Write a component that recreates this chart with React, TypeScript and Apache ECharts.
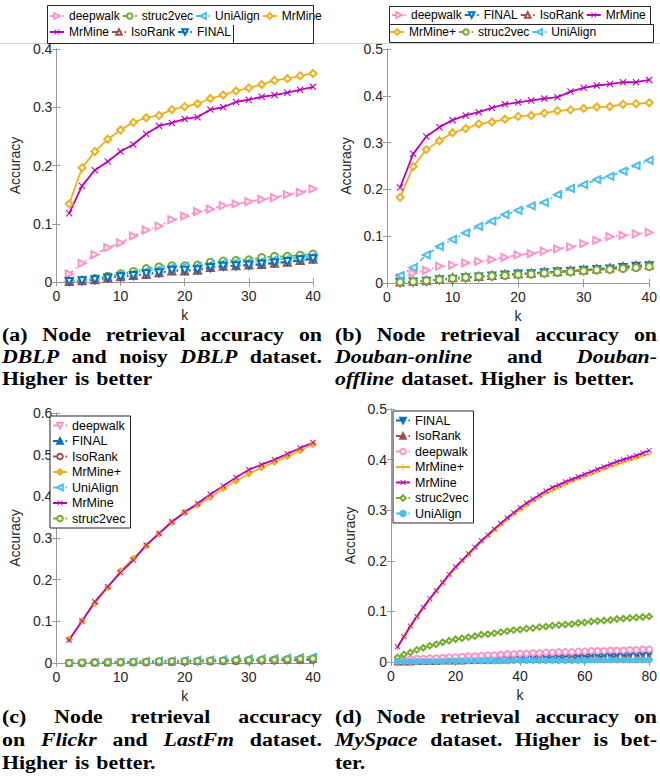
import React, { useEffect, useRef } from "react";
import * as echarts from "echarts";

// ---------------- data ----------------
const K40 = [2, 4, 6, 8, 10, 12, 14, 16, 18, 20, 22, 24, 26, 28, 30, 32, 34, 36, 38, 40];
const K80 = [2, 4, 6, 8, 10, 12, 14, 16, 18, 20, 22, 24, 26, 28, 30, 32, 34, 36, 38, 40,
  42, 44, 46, 48, 50, 52, 54, 56, 58, 60, 62, 64, 66, 68, 70, 72, 74, 76, 78, 80];

// (a) DBLP
const aDeepwalk = [0.014, 0.032, 0.047, 0.059, 0.067, 0.079, 0.089, 0.096, 0.107, 0.113, 0.121, 0.125, 0.131, 0.134, 0.138, 0.142, 0.145, 0.150, 0.154, 0.160];
const aStruc2vec = [0.001, 0.003, 0.006, 0.010, 0.014, 0.018, 0.023, 0.026, 0.028, 0.028, 0.029, 0.034, 0.036, 0.037, 0.038, 0.042, 0.044, 0.044, 0.046, 0.048];
const aUniAlign = [0.001, 0.003, 0.005, 0.008, 0.012, 0.015, 0.019, 0.022, 0.025, 0.027, 0.027, 0.030, 0.033, 0.034, 0.035, 0.036, 0.039, 0.040, 0.042, 0.044];
const aMrMinePlus = [0.134, 0.196, 0.224, 0.245, 0.261, 0.274, 0.282, 0.286, 0.296, 0.301, 0.306, 0.315, 0.321, 0.328, 0.333, 0.339, 0.346, 0.349, 0.354, 0.358];
const aMrMine = [0.118, 0.165, 0.192, 0.207, 0.224, 0.236, 0.254, 0.268, 0.273, 0.280, 0.283, 0.296, 0.300, 0.309, 0.313, 0.318, 0.321, 0.325, 0.330, 0.335];
const aIsoRank = [0.001, 0.002, 0.004, 0.007, 0.009, 0.011, 0.013, 0.016, 0.019, 0.019, 0.020, 0.025, 0.027, 0.028, 0.029, 0.030, 0.032, 0.034, 0.037, 0.039];
const aFinal = [0.001, 0.002, 0.004, 0.007, 0.009, 0.011, 0.014, 0.016, 0.020, 0.020, 0.021, 0.025, 0.027, 0.028, 0.029, 0.031, 0.033, 0.035, 0.038, 0.040];

// (b) Douban
const bDeepwalk = [0.011, 0.021, 0.027, 0.036, 0.038, 0.043, 0.046, 0.050, 0.055, 0.060, 0.063, 0.068, 0.073, 0.077, 0.084, 0.091, 0.099, 0.102, 0.105, 0.108];
const bFinal = [0.001, 0.002, 0.004, 0.007, 0.008, 0.011, 0.013, 0.015, 0.017, 0.019, 0.020, 0.022, 0.024, 0.025, 0.027, 0.029, 0.030, 0.033, 0.036, 0.037];
const bIsoRank = [0.002, 0.003, 0.005, 0.008, 0.011, 0.013, 0.014, 0.016, 0.018, 0.020, 0.021, 0.023, 0.024, 0.026, 0.028, 0.030, 0.032, 0.035, 0.037, 0.038];
const bMrMine = [0.204, 0.276, 0.313, 0.333, 0.348, 0.358, 0.365, 0.374, 0.382, 0.386, 0.390, 0.394, 0.397, 0.409, 0.417, 0.422, 0.425, 0.429, 0.429, 0.434];
const bMrMinePlus = [0.183, 0.249, 0.285, 0.304, 0.321, 0.330, 0.340, 0.344, 0.350, 0.356, 0.358, 0.363, 0.368, 0.370, 0.373, 0.376, 0.377, 0.382, 0.383, 0.385];
const bStruc2vec = [0.002, 0.003, 0.005, 0.007, 0.010, 0.012, 0.014, 0.015, 0.016, 0.018, 0.019, 0.021, 0.023, 0.024, 0.026, 0.028, 0.029, 0.031, 0.033, 0.035];
const bUniAlign = [0.016, 0.033, 0.060, 0.078, 0.093, 0.107, 0.121, 0.132, 0.146, 0.155, 0.165, 0.172, 0.189, 0.202, 0.210, 0.221, 0.228, 0.239, 0.251, 0.262];

// (c) Flickr / LastFm
const cDeepwalk = [0.000, 0.000, 0.001, 0.001, 0.001, 0.002, 0.002, 0.002, 0.003, 0.003, 0.003, 0.004, 0.004, 0.004, 0.005, 0.005, 0.006, 0.006, 0.007, 0.008];
const cFinal = [0.000, 0.001, 0.001, 0.001, 0.002, 0.002, 0.003, 0.003, 0.003, 0.004, 0.004, 0.005, 0.005, 0.006, 0.006, 0.007, 0.007, 0.008, 0.008, 0.009];
const cIsoRank = [0.000, 0.000, 0.001, 0.001, 0.002, 0.002, 0.002, 0.003, 0.003, 0.003, 0.004, 0.004, 0.005, 0.005, 0.006, 0.006, 0.006, 0.007, 0.007, 0.008];
const cMrMinePlus = [0.057, 0.101, 0.143, 0.181, 0.221, 0.251, 0.281, 0.310, 0.337, 0.361, 0.379, 0.398, 0.419, 0.437, 0.454, 0.469, 0.482, 0.496, 0.510, 0.525];
const cUniAlign = [0.000, 0.001, 0.002, 0.003, 0.003, 0.004, 0.005, 0.006, 0.006, 0.007, 0.008, 0.008, 0.009, 0.010, 0.011, 0.011, 0.012, 0.013, 0.014, 0.015];
const cMrMine = [0.055, 0.101, 0.147, 0.183, 0.217, 0.247, 0.283, 0.311, 0.339, 0.362, 0.383, 0.405, 0.425, 0.445, 0.464, 0.476, 0.488, 0.502, 0.516, 0.529];
const cStruc2vec = [0.000, 0.001, 0.001, 0.002, 0.002, 0.003, 0.003, 0.004, 0.004, 0.005, 0.005, 0.006, 0.006, 0.007, 0.007, 0.008, 0.008, 0.009, 0.010, 0.011];

// (d) MySpace
const dFinal = [0.000, 0.000, 0.001, 0.001, 0.001, 0.002, 0.002, 0.002, 0.003, 0.003, 0.003, 0.004, 0.004, 0.004, 0.005, 0.005, 0.005, 0.006, 0.006, 0.006,
  0.007, 0.007, 0.007, 0.008, 0.008, 0.008, 0.009, 0.009, 0.009, 0.010, 0.010, 0.010, 0.011, 0.011, 0.011, 0.012, 0.012, 0.013, 0.013, 0.014];
const dIsoRank = [0.000, 0.000, 0.000, 0.001, 0.001, 0.001, 0.001, 0.002, 0.002, 0.002, 0.002, 0.003, 0.003, 0.003, 0.003, 0.004, 0.004, 0.004, 0.005, 0.005,
  0.005, 0.005, 0.006, 0.006, 0.006, 0.006, 0.007, 0.007, 0.007, 0.007, 0.008, 0.008, 0.008, 0.008, 0.009, 0.009, 0.009, 0.009, 0.010, 0.010];
const dDeepwalk = [0.004, 0.005, 0.006, 0.007, 0.007, 0.008, 0.008, 0.009, 0.010, 0.010, 0.011, 0.012, 0.012, 0.013, 0.014, 0.014, 0.015, 0.016, 0.016, 0.017,
  0.017, 0.018, 0.018, 0.019, 0.019, 0.020, 0.020, 0.020, 0.021, 0.021, 0.022, 0.022, 0.022, 0.023, 0.023, 0.023, 0.024, 0.024, 0.025, 0.025];
const dMrMinePlus = [0.028, 0.050, 0.070, 0.088, 0.106, 0.123, 0.140, 0.155, 0.171, 0.186, 0.199, 0.212, 0.225, 0.238, 0.249, 0.260, 0.271, 0.282, 0.292, 0.301,
  0.310, 0.318, 0.325, 0.333, 0.339, 0.345, 0.351, 0.357, 0.362, 0.367, 0.371, 0.376, 0.381, 0.386, 0.390, 0.395, 0.399, 0.403, 0.408, 0.411];
const dMrMine = [0.030, 0.050, 0.071, 0.090, 0.108, 0.125, 0.141, 0.157, 0.173, 0.188, 0.201, 0.214, 0.227, 0.240, 0.251, 0.263, 0.274, 0.285, 0.295, 0.305,
  0.314, 0.322, 0.330, 0.338, 0.345, 0.350, 0.356, 0.361, 0.366, 0.371, 0.376, 0.381, 0.386, 0.391, 0.396, 0.400, 0.404, 0.408, 0.413, 0.418];
const dStruc2vec = [0.009, 0.015, 0.019, 0.024, 0.028, 0.032, 0.035, 0.039, 0.042, 0.045, 0.047, 0.049, 0.051, 0.054, 0.055, 0.057, 0.059, 0.061, 0.063, 0.064,
  0.066, 0.067, 0.069, 0.070, 0.072, 0.073, 0.074, 0.075, 0.077, 0.078, 0.080, 0.081, 0.082, 0.083, 0.085, 0.086, 0.087, 0.088, 0.089, 0.090];
const dUniAlign = [0.001, 0.001, 0.001, 0.001, 0.001, 0.001, 0.001, 0.001, 0.002, 0.002, 0.002, 0.002, 0.002, 0.002, 0.002, 0.002, 0.002, 0.002, 0.003, 0.003,
  0.003, 0.003, 0.003, 0.003, 0.003, 0.003, 0.003, 0.003, 0.003, 0.003, 0.004, 0.004, 0.004, 0.004, 0.004, 0.004, 0.004, 0.004, 0.004, 0.004];

// captions (words between * are italic)
const capA = ["(a) Node retrieval accuracy on", "*DBLP* and noisy *DBLP* dataset.", "Higher is better"];
const capB = ["(b) Node retrieval accuracy on", "*Douban-online* and *Douban-*", "*offline* dataset. Higher is better."];
const capC = ["(c) Node retrieval accuracy", "on *Flickr* and *LastFm* dataset.", "Higher is better."];
const capD = ["(d) Node retrieval accuracy on", "*MySpace* dataset. Higher is bet-", "ter."];

// ---------------- styles ----------------
const SANS = '"Liberation Sans", Arial, Helvetica, sans-serif';
const SERIF = '"Liberation Serif", "Times New Roman", serif';
const C = {
  pink: "#FF94C9",
  green: "#77AC30",
  light: "#4DBEEE",
  orange: "#EDB120",
  purple: "#BB00BB",
  brown: "#A0514F",
  blue: "#0072BD",
};
const AX = "#9a9a9a";
const TXT = "#262626";
const XSYM = "path://M0,1.1L1.1,0L5,3.9L8.9,0L10,1.1L6.1,5L10,8.9L8.9,10L5,6.1L1.1,10L0,8.9L3.9,5Z";
const PSYM = "path://M4.2,0H5.8V4.2H10V5.8H5.8V10H4.2V5.8H0V4.2H4.2Z";

type Sty = { color: string; dash: boolean; symbol: string; rot?: number; size?: number };

function mk(name: string, xs: number[], ys: number[], s: Sty) {
  const isPath = s.symbol.startsWith("path://");
  return {
    type: "line",
    name,
    data: xs.map((x, i) => [x, ys[i]]),
    symbol: s.symbol,
    symbolRotate: s.rot ?? 0,
    symbolSize: s.size ?? 7,
    showAllSymbol: true,
    lineStyle: { color: s.color, width: 1.8, type: s.dash ? [5, 3, 1.5, 3] : "solid" },
    itemStyle: { color: s.color, borderColor: s.color, borderWidth: isPath ? 0 : 1.3 },
    emphasis: { disabled: true },
  };
}

function axes(xMax: number, xInt: number, yMax: number, yInt: number, yGap: number) {
  const base = {
    type: "value",
    axisLine: { show: true, lineStyle: { color: AX, width: 1 } },
    axisTick: { show: true, inside: true, length: 4, lineStyle: { color: AX } },
    splitLine: { show: false },
  };
  return {
    xAxis: [
      {
        ...base, min: 0, max: xMax, interval: xInt, position: "bottom",
        name: "k", nameLocation: "middle", nameGap: 25,
        nameTextStyle: { fontFamily: SANS, fontSize: 14, color: TXT },
        axisLabel: { fontFamily: SANS, fontSize: 14, color: TXT, margin: 7 },
      },
      { ...base, min: 0, max: xMax, interval: xInt, position: "top", axisLabel: { show: false } },
    ],
    yAxis: [
      {
        ...base, min: 0, max: yMax, interval: yInt, position: "left",
        name: "Accuracy", nameLocation: "middle", nameGap: yGap, nameRotate: 90,
        nameTextStyle: { fontFamily: SANS, fontSize: 14, color: TXT },
        axisLabel: {
          fontFamily: SANS, fontSize: 14, color: TXT, margin: 4,
          formatter: (v: number) => String(+v.toFixed(2)),
        },
      },
      { ...base, min: 0, max: yMax, interval: yInt, position: "right", axisLabel: { show: false } },
    ],
  };
}

function legendRow(data: string[], left: number, top: number, formatter?: (n: string) => string) {
  return {
    data, left, top, orient: "horizontal", padding: 0, itemGap: 2,
    itemWidth: 14, itemHeight: 7, selectedMode: false,
    textStyle: { fontFamily: SANS, fontSize: 12, color: "#000" },
    ...(formatter ? { formatter } : {}),
  };
}

function legendBox(data: string[], left: number, top: number) {
  return {
    data, left, top, orient: "vertical", padding: [3, 5, 3, 2], itemGap: 2.5,
    itemWidth: 14, itemHeight: 7, selectedMode: false,
    borderColor: TXT, borderWidth: 1, backgroundColor: "#fff",
    textStyle: { fontFamily: SANS, fontSize: 12.5, color: "#000" },
  };
}

const CAP_SIZE = 19;
const CAP_SX = 1.15;

function caption(lines: string[], left: number, right: number, ys: number[]) {
  const cv = document.createElement("canvas");
  const ctx = cv.getContext("2d")!;
  const fontOf = (it: boolean) => `${it ? "italic " : ""}bold ${CAP_SIZE}px ${SERIF}`;
  const els: any[] = [];
  lines.forEach((line, li) => {
    const words = line.split(" ").map((w) => ({ t: w.replace(/\*/g, ""), it: w.startsWith("*") }));
    const widths = words.map((w) => {
      ctx.font = fontOf(w.it);
      return ctx.measureText(w.t).width * CAP_SX;
    });
    ctx.font = fontOf(false);
    const space = ctx.measureText(" ").width * CAP_SX * 1.3;
    const total = widths.reduce((a, b) => a + b, 0);
    const justify = li < lines.length - 1 && words.length > 1;
    const gap = justify ? (right - left - total) / (words.length - 1) : space;
    let x = left;
    words.forEach((w, i) => {
      els.push({
        type: "text", x, y: ys[li], scaleX: CAP_SX, silent: true,
        style: { text: w.t, font: fontOf(w.it), fill: "#000", align: "left", verticalAlign: "middle" },
      });
      x += widths[i] + gap;
    });
  });
  return els;
}

function hline(y: number) {
  return { type: "line", z: 0, shape: { x1: 0, y1: y, x2: 330, y2: y }, style: { stroke: "#d4d4d4", lineWidth: 1 } };
}
function boxRect(x: number, y: number, w: number, h: number) {
  return { type: "rect", z: 100, shape: { x, y, width: w, height: h }, style: { fill: "none", stroke: TXT, lineWidth: 1 } };
}

// ---------------- options ----------------
function optA() {
  const S = (c: string, dash: boolean, symbol: string, rot = 0): Sty => ({ color: c, dash, symbol, rot, size: 7 });
  return {
    animation: false,
    grid: { left: 48, top: 49, width: 265, height: 233, show: false },
    ...axes(40, 10, 0.4, 0.1, 26),
    legend: [
      legendRow(["deepwalk", "struc2vec", "UniAlign", "MrMine+"], 49, 10, (n) => (n === "MrMine+" ? "MrMine" : n)),
      legendRow(["MrMine", "IsoRank", "FINAL"], 49, 26),
    ],
    graphic: [
      hline(43.5),
      boxRect(47.5, 5.5, 266, 38),
      { type: "line", z: 100, shape: { x1: 233.5, y1: 25, x2: 233.5, y2: 43.5 }, style: { stroke: TXT, lineWidth: 1 } },
      ...caption(capA, 2, 322, [335, 357, 379]),
    ],
    series: [
      mk("deepwalk", K40, aDeepwalk, S(C.pink, true, "emptyTriangle", -90)),
      mk("struc2vec", K40, aStruc2vec, S(C.green, true, "emptyCircle")),
      mk("UniAlign", K40, aUniAlign, S(C.light, true, "emptyTriangle", 90)),
      mk("MrMine+", K40, aMrMinePlus, S(C.orange, false, "emptyDiamond")),
      mk("MrMine", K40, aMrMine, S(C.purple, false, XSYM)),
      mk("IsoRank", K40, aIsoRank, S(C.brown, true, "emptyTriangle")),
      mk("FINAL", K40, aFinal, S(C.blue, true, "emptyTriangle", 180)),
    ],
  };
}

function optB() {
  const S = (c: string, dash: boolean, symbol: string, rot = 0): Sty => ({ color: c, dash, symbol, rot, size: 7 });
  return {
    animation: false,
    grid: { left: 57, top: 49, width: 268, height: 234, show: false },
    ...axes(40, 10, 0.5, 0.1, 25),
    legend: [
      legendRow(["deepwalk", "FINAL", "IsoRank", "MrMine"], 61, 9),
      legendRow(["MrMine+", "struc2vec", "UniAlign"], 59, 26),
    ],
    graphic: [
      hline(43.5),
      boxRect(59.5, 6.5, 261, 18),
      boxRect(59.5, 24.5, 264, 18),
      ...caption(capB, 5, 327, [335, 357, 379]),
    ],
    series: [
      mk("deepwalk", K40, bDeepwalk, S(C.pink, true, "emptyTriangle", -90)),
      mk("FINAL", K40, bFinal, S(C.blue, true, "emptyTriangle", 180)),
      mk("IsoRank", K40, bIsoRank, S(C.brown, true, "emptyTriangle")),
      mk("MrMine", K40, bMrMine, S(C.purple, false, XSYM)),
      mk("MrMine+", K40, bMrMinePlus, S(C.orange, false, "emptyDiamond")),
      mk("struc2vec", K40, bStruc2vec, S(C.green, true, "emptyCircle")),
      mk("UniAlign", K40, bUniAlign, S(C.light, true, "emptyTriangle", 90)),
    ],
  };
}

function optC() {
  const S = (c: string, dash: boolean, symbol: string, rot = 0): Sty => ({ color: c, dash, symbol, rot, size: 6 });
  return {
    animation: false,
    grid: { left: 49, top: 23, width: 264, height: 250, show: false },
    ...axes(40, 10, 0.6, 0.1, 27),
    legend: legendBox(["deepwalk", "FINAL", "IsoRank", "MrMine+", "UniAlign", "MrMine", "struc2vec"], 50, 26),
    graphic: caption(capC, 2, 322, [327, 350, 373]),
    series: [
      mk("deepwalk", K40, cDeepwalk, S(C.pink, true, "emptyTriangle", 180)),
      mk("FINAL", K40, cFinal, S(C.blue, true, "triangle")),
      mk("IsoRank", K40, cIsoRank, S(C.brown, true, "emptyCircle")),
      mk("MrMine+", K40, cMrMinePlus, S(C.orange, false, "diamond")),
      mk("UniAlign", K40, cUniAlign, S(C.light, true, "emptyTriangle", 90)),
      mk("MrMine", K40, cMrMine, S(C.purple, false, XSYM)),
      mk("struc2vec", K40, cStruc2vec, S(C.green, true, "emptyCircle")),
    ],
  };
}

function optD() {
  const S = (c: string, dash: boolean, symbol: string, rot = 0): Sty => ({ color: c, dash, symbol, rot, size: 5.5 });
  return {
    animation: false,
    grid: { left: 61, top: 19, width: 264, height: 253, show: false },
    ...axes(80, 20, 0.5, 0.1, 27),
    legend: legendBox(["FINAL", "IsoRank", "deepwalk", "MrMine+", "MrMine", "struc2vec", "UniAlign"], 63, 21),
    graphic: caption(capD, 5, 327, [327, 350, 373]),
    series: [
      mk("FINAL", K80, dFinal, S(C.blue, true, "triangle", 180)),
      mk("IsoRank", K80, dIsoRank, S(C.brown, true, "triangle")),
      mk("deepwalk", K80, dDeepwalk, S(C.pink, true, "emptyCircle")),
      mk("MrMine+", K80, dMrMinePlus, S(C.orange, false, PSYM)),
      mk("MrMine", K80, dMrMine, S(C.purple, false, XSYM)),
      mk("struc2vec", K80, dStruc2vec, S(C.green, true, "emptyDiamond")),
      mk("UniAlign", K80, dUniAlign, S(C.light, true, "circle")),
    ],
  };
}

export default function App() {
  const r1 = useRef<HTMLDivElement>(null);
  const r2 = useRef<HTMLDivElement>(null);
  const r3 = useRef<HTMLDivElement>(null);
  const r4 = useRef<HTMLDivElement>(null);
  useEffect(() => {
    const pairs: [HTMLDivElement | null, any][] = [
      [r1.current, optA()],
      [r2.current, optB()],
      [r3.current, optC()],
      [r4.current, optD()],
    ];
    const charts = pairs.map(([el, opt]) => {
      const c = echarts.init(el!, null, { renderer: "svg" });
      c.setOption(opt);
      return c;
    });
    return () => charts.forEach((c) => c.dispose());
  }, []);
  const box = (l: number, t: number, h: number): React.CSSProperties => ({
    position: "absolute", left: l, top: t, width: 330, height: h, overflow: "hidden",
  });
  return (
    <div style={{ position: "absolute", left: 0, top: 0, width: 660, height: 779, background: "#fff", overflow: "hidden" }}>
      <div ref={r1} style={box(0, 0, 390)} />
      <div ref={r2} style={box(330, 0, 390)} />
      <div ref={r3} style={box(0, 390, 389)} />
      <div ref={r4} style={box(330, 390, 389)} />
    </div>
  );
}
